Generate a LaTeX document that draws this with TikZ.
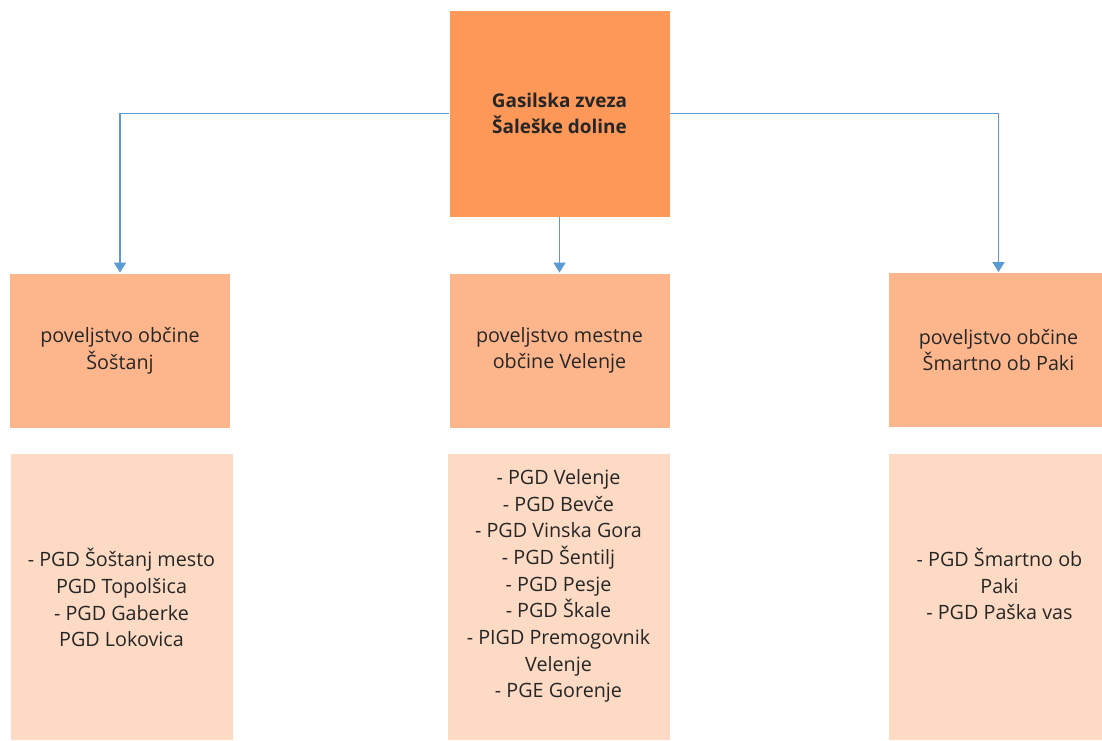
\documentclass[tikz,border=0pt]{standalone}
\usepackage{fontspec}
\setmainfont{Open Sans}
\usetikzlibrary{arrows.meta}
\definecolor{headorange}{HTML}{FD9859}
\definecolor{midorange}{HTML}{FDB68C}
\definecolor{lowpeach}{HTML}{FDDAC4}
\definecolor{linkblue}{HTML}{5B9BD5}

\begin{document}
\begin{tikzpicture}[x=0.75pt,y=-0.75pt,
		box/.style={draw=white, line width=0.6pt, inner sep=0pt, align=center,
			font=\fontsize{14.8pt}{20pt}\selectfont, text=black!85},
		head/.style={box, fill=headorange, minimum width=221*0.75pt, minimum height=207*0.75pt,
			font=\fontsize{14.2pt}{20pt}\selectfont\bfseries},
		council/.style={box, fill=midorange, minimum width=221*0.75pt, minimum height=155*0.75pt},
		units/.style={box, fill=lowpeach, minimum width=223*0.75pt, minimum height=287*0.75pt},
		unitlist/.style={inner sep=0pt, align=center, font=\fontsize{14.8pt}{20pt}\selectfont, text=black!85},
		link/.style={linkblue, line width=1pt, -{Triangle[width=9pt,length=7.5pt]}}]
	\useasboundingbox (0,0) rectangle (1102,740);
	\clip (0,0) rectangle (1102,740);

	\node[head] (gz) at (559.5,113.5) {Gasilska zveza\\Šaleške doline};

	\node[council] (sos) at (120,350.5) {poveljstvo občine\\Šoštanj};
	\node[council] (vel) at (559.5,350.5) {poveljstvo mestne\\občine Velenje};
	\node[council] (smp) at (998.5,350) {poveljstvo občine\\Šmartno ob Paki};

	% lists of the fire brigades under each command
	\node[units, label={[unitlist, yshift=-1pt]center:{- PGD Šoštanj mesto\\PGD Topolšica\\- PGD Gaberke\\PGD Lokovica}}]
		(sosu) at (121.5,596.5) {};
	\node[units, label={[unitlist, yshift=7.9pt]center:{- PGD Velenje\\- PGD Bevče\\- PGD Vinska Gora\\- PGD Šentilj\\- PGD Pesje\\- PGD Škale\\- PIGD Premogovnik\\Velenje\\- PGE Gorenje}}]
		(velu) at (558.5,596.5) {};
	\node[units, label={[unitlist, yshift=9.4pt]center:{- PGD Šmartno ob\\Paki\\- PGD Paška vas}}]
		(smpu) at (999.5,596.5) {};

	\draw[link] (gz.west) -| (sos.north);
	\draw[link] (gz.east) -| (smp.north);
	\draw[link] (gz.south) -- (vel.north);
\end{tikzpicture}
\end{document}
